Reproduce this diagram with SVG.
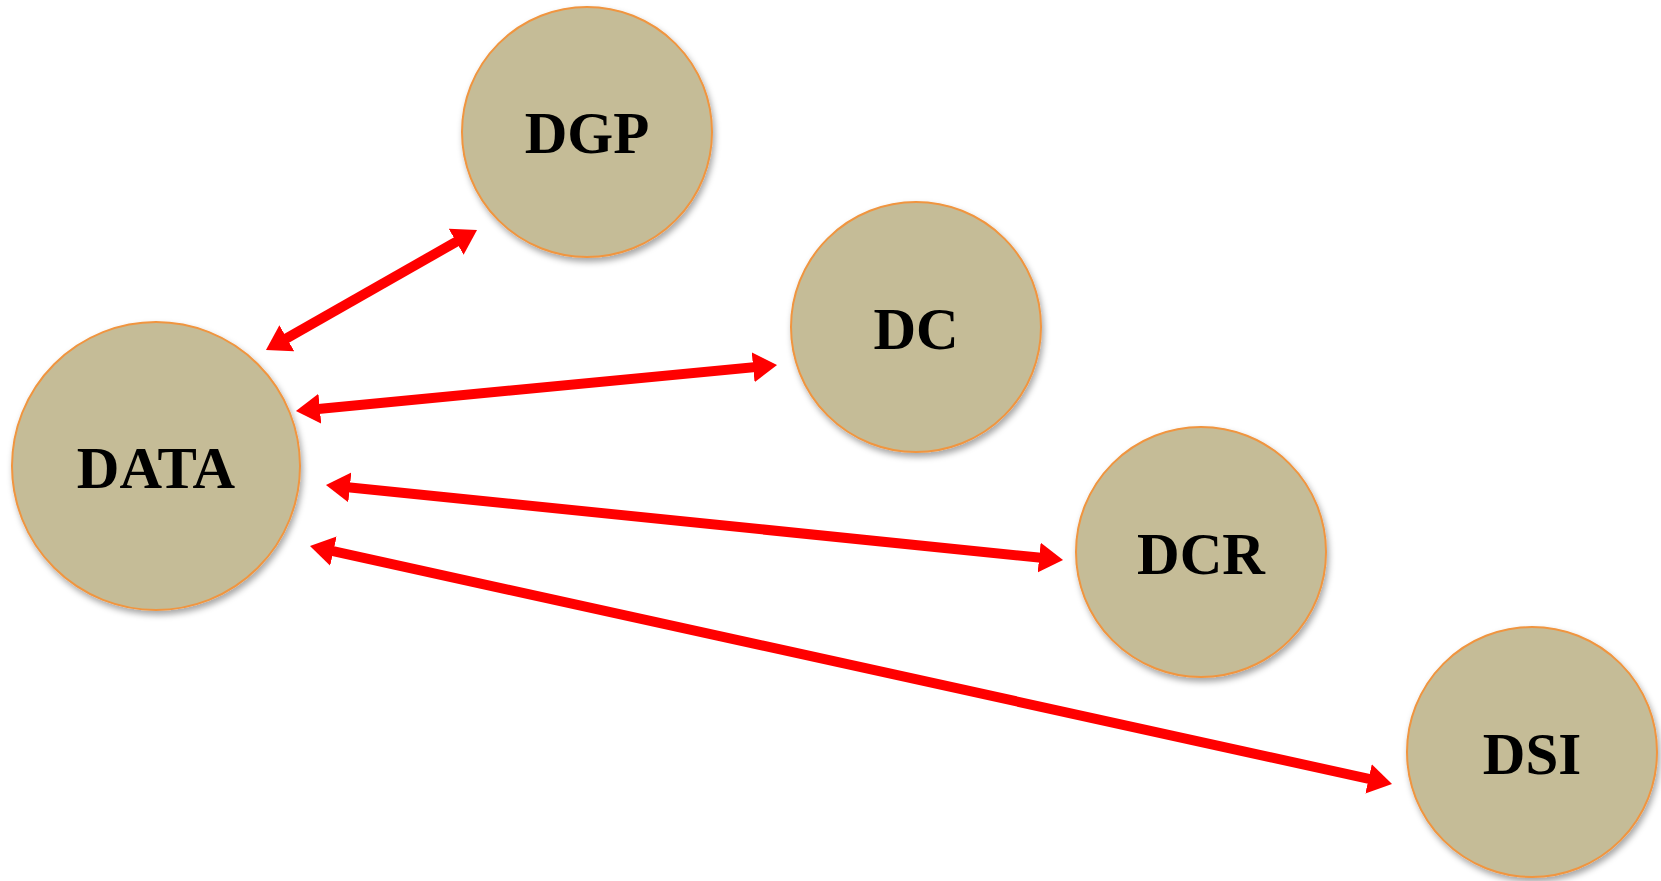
<svg xmlns="http://www.w3.org/2000/svg" width="1661" height="881" viewBox="0 0 1661 881">
<style>
.node circle{fill:#c5bc97;stroke:#f0953f;stroke-width:2;filter:url(#sh)}
.node text{font-family:"Liberation Serif","Times New Roman",serif;font-weight:bold;font-size:59px;fill:#000;text-anchor:middle}
.conn line{stroke:#ff0000;stroke-width:10;stroke-linecap:butt;marker-start:url(#ah);marker-end:url(#ah)}
</style>
<defs>
<filter id="sh" x="-20%" y="-20%" width="140%" height="140%">
<feDropShadow dx="2" dy="4" stdDeviation="3" flood-color="#000" flood-opacity="0.35"/>
</filter>
<marker id="ah" markerUnits="userSpaceOnUse" markerWidth="26" markerHeight="32" viewBox="0 0 26 32" refX="12" refY="15" orient="auto-start-reverse">
<path d="M0,0 L24,15 L0,30 z" fill="#ff0000"/>
</marker>
</defs>
<rect width="1661" height="881" fill="#fff"/>
<g id="connectors" class="conn">
<line x1="276.4" y1="344.1" x2="466.6" y2="235.9"/>
<line x1="307.9" y1="409.9" x2="765.1" y2="366.1"/>
<line x1="337.9" y1="486.2" x2="1051.1" y2="558.8"/>
<line x1="321.7" y1="548.6" x2="1380.3" y2="781.4"/>
</g>
<g id="DATA" class="node"><circle cx="156" cy="466" r="144"/><text x="156" y="488">DATA</text></g>
<g id="DGP" class="node"><circle cx="587" cy="132" r="125"/><text x="587" y="153">DGP</text></g>
<g id="DC" class="node"><circle cx="916" cy="327" r="125"/><text x="916" y="349">DC</text></g>
<g id="DCR" class="node"><circle cx="1201" cy="552" r="125"/><text x="1201" y="574">DCR</text></g>
<g id="DSI" class="node"><circle cx="1532" cy="752" r="125"/><text x="1532" y="774">DSI</text></g>
</svg>
